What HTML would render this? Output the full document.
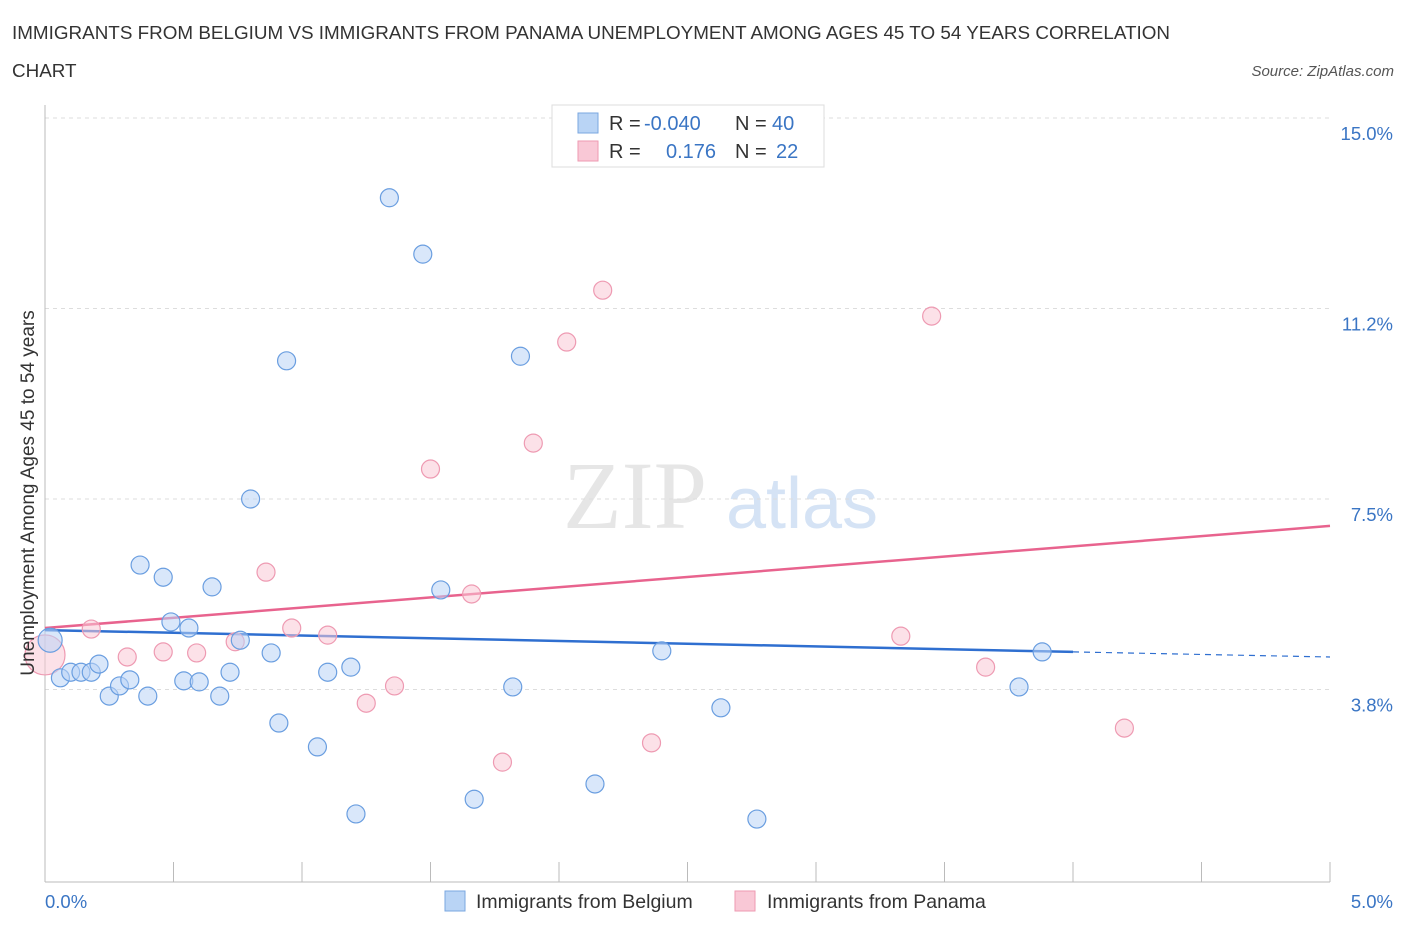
<!DOCTYPE html>
<html><head><meta charset="utf-8"><style>
body{margin:0;background:#fff;font-family:"Liberation Sans",sans-serif;}
</style></head><body>
<svg id="c" width="1406" height="930" xmlns="http://www.w3.org/2000/svg">
<text x="12" y="39" font-size="18.85" fill="#333">IMMIGRANTS FROM BELGIUM VS IMMIGRANTS FROM PANAMA UNEMPLOYMENT AMONG AGES 45 TO 54 YEARS CORRELATION</text>
<text x="12" y="77" font-size="18.85" fill="#333">CHART</text>
<text x="1394" y="76" font-size="15" fill="#555" font-style="italic" text-anchor="end">Source: ZipAtlas.com</text>
<text x="635" y="528" font-size="96" fill="#e6e6e6" font-family="Liberation Serif,serif" text-anchor="middle">ZIP</text>
<text x="802" y="528" font-size="72" fill="#d5e3f5" text-anchor="middle">atlas</text>
<g id="grid"></g><g id="axes"></g><g id="lines"></g><g id="pts"></g>
<text x="34" y="493" font-size="19" fill="#333" text-anchor="middle" transform="rotate(-90 34 493)">Unemployment Among Ages 45 to 54 years</text>
<text x="45" y="908" font-size="18.5" fill="#3a75c4">0.0%</text>
<text x="1393" y="908" font-size="18.5" fill="#3a75c4" text-anchor="end">5.0%</text>
<g>
<rect x="552" y="105" width="272" height="62" fill="#fff" stroke="#ddd"/>
<rect x="578" y="113" width="20" height="20" fill="#b9d4f5" stroke="#7aa7e0"/>
<rect x="578" y="141" width="20" height="20" fill="#f9c8d6" stroke="#ee9ab2"/>
<text y="130" font-size="20" fill="#333"><tspan x="609">R = </tspan><tspan x="644" fill="#3a75c4">-0.040</tspan><tspan x="735">N = </tspan><tspan x="772" fill="#3a75c4">40</tspan></text>
<text y="158" font-size="20" fill="#333"><tspan x="609">R = </tspan><tspan fill="#3a75c4" x="666">0.176</tspan><tspan x="735">N = </tspan><tspan fill="#3a75c4" x="776">22</tspan></text>
</g>
<g>
<rect x="445" y="891" width="20" height="20" fill="#b9d4f5" stroke="#7aa7e0"/>
<text x="476" y="908" font-size="19.5" fill="#333">Immigrants from Belgium</text>
<rect x="735" y="891" width="20" height="20" fill="#f9c8d6" stroke="#ee9ab2"/>
<text x="767" y="908" font-size="19.5" fill="#333">Immigrants from Panama</text>
</g>
</svg>
<script>
const yTicks=[15.0,11.25,7.5,3.75];
const yTickLabels=["15.0%","11.2%","7.5%","3.8%"];
const belgiumX=[0.02,0.06,0.10,0.14,0.18,0.21,0.25,0.29,0.33,0.40,0.37,0.46,0.49,0.56,0.54,0.60,0.65,0.68,0.72,0.76,0.80,0.88,0.91,0.94,1.06,1.10,1.19,1.21,1.34,1.47,1.54,1.67,1.82,1.85,2.14,2.40,2.63,2.77,3.79,3.88];
const belgiumY=[4.72,3.98,4.09,4.09,4.09,4.25,3.62,3.82,3.94,3.62,6.20,5.96,5.08,4.96,3.92,3.90,5.77,3.62,4.09,4.72,7.50,4.47,3.09,10.22,2.62,4.09,4.19,1.30,13.43,12.32,5.71,1.59,3.80,10.31,1.89,4.51,3.39,1.20,3.80,4.49];
const panamaX=[0.0,0.18,0.32,0.46,0.59,0.74,0.86,0.96,1.10,1.25,1.36,1.50,1.66,1.78,1.90,2.03,2.17,2.36,3.33,3.45,3.66,4.20];
const panamaY=[4.43,4.94,4.39,4.49,4.47,4.69,6.06,4.96,4.82,3.48,3.82,8.09,5.63,2.32,8.60,10.59,11.61,2.70,4.80,11.10,4.19,2.99];
const belgiumTrend=[4.92,4.49,4.39]; // at x=0, 4.0, 5.0
const panamaTrend=[4.96,6.97]; // at x=0, 5.0
const NS="http://www.w3.org/2000/svg";
const X=v=>45+v/5*1285;
const Y=v=>880-v/3.75*190.5;
function mk(t,a,p){const e=document.createElementNS(NS,t);for(const k in a)e.setAttribute(k,a[k]);document.getElementById(p).appendChild(e);return e;}
yTicks.forEach((t,i)=>{
 const g=mk('line',{x1:45,x2:1330,y1:Y(t),y2:Y(t),stroke:'#ddd','stroke-dasharray':'4,4'},'grid');
 
 
 const l=mk('text',{x:1393,y:Y(t)+22,'font-size':18.5,fill:'#3a75c4','text-anchor':'end'},'grid');
 l.textContent=yTickLabels[i];
 
 
});
const ax=mk('line',{x1:45,x2:1330,y1:882,y2:882,stroke:'#bbb'},'axes');


const ay=mk('line',{x1:45,x2:45,y1:105,y2:882,stroke:'#bbb'},'axes');


for(let i=0;i<=10;i++){
 const t=mk('line',{x1:X(i*0.5),x2:X(i*0.5),y1:862,y2:882,stroke:'#bbb'},'axes');
 
 
}
function pts(xs,ys,fill,stroke,name){
 xs.forEach((x,i)=>{
  const r=i===0?(name==='panama-point'?20:12):9;
  const c=mk('circle',{cx:X(x),cy:Y(ys[i]),r:r,fill:fill,'fill-opacity':0.55,stroke:stroke,'stroke-width':1.2},'pts');
  
  
 });
}
pts(panamaX,panamaY,'#f9c8d6','#ee9ab2','panama-point');
pts(belgiumX,belgiumY,'#b9d4f5','#6a9ee0','belgium-point');
const b1=mk('line',{x1:X(0),y1:Y(belgiumTrend[0]),x2:X(4),y2:Y(belgiumTrend[1]),stroke:'#2f6fd0','stroke-width':2.5},'lines');


const b2=mk('line',{x1:X(4),y1:Y(belgiumTrend[1]),x2:X(5),y2:Y(belgiumTrend[2]),stroke:'#2f6fd0','stroke-width':1.2,'stroke-dasharray':'6,5'},'lines');


const p1=mk('line',{x1:X(0),y1:Y(panamaTrend[0]),x2:X(5),y2:Y(panamaTrend[1]),stroke:'#e8638e','stroke-width':2.5},'lines');


</script>
</body></html>
